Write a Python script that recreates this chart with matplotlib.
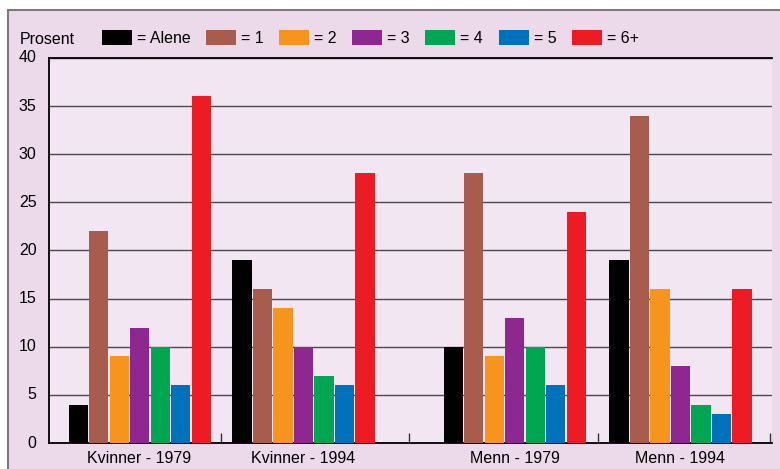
import matplotlib
matplotlib.use("Agg")
import matplotlib.pyplot as plt
from matplotlib.patches import Rectangle, Patch
import numpy as np

plt.rcParams['font.family'] = ['Liberation Sans', 'DejaVu Sans']
plt.rcParams['font.size'] = 11

groups = ["Kvinner - 1979", "Kvinner - 1994", "Menn - 1979", "Menn - 1994"]
series = ["= Alene", "= 1", "= 2", "= 3", "= 4", "= 5", "= 6+"]
alene = [4, 19, 10, 19]
en = [22, 16, 28, 34]
to = [9, 14, 9, 16]
tre = [12, 10, 13, 8]
fire = [10, 7, 10, 4]
fem = [6, 6, 6, 3]
seks_pluss = [36, 28, 24, 16]
values = [alene, en, to, tre, fire, fem, seks_pluss]
colors = ["#000000", "#a85c4e", "#f7941d", "#8e278f", "#00a651", "#0072bc", "#ed1c24"]

# layout: group centres (menn-gruppene litt lenger unna)
centers = np.array([0, 1, 2.287, 3.299])
boundaries = [0.497, 1.643, 2.793, 3.845]
slot = 0.125
width = 0.116

W, H = 780, 469
fig = plt.figure(figsize=(W / 100, H / 100), dpi=100, facecolor="white")
fig.patches.append(Rectangle((8 / W, -0.05), 1, (H - 10) / H + 0.05, transform=fig.transFigure,
                             facecolor="#ecdaea", edgecolor="#7a7a7a", lw=1.5, zorder=-10))

ax = fig.add_axes([49 / W, (H - 443) / H, (772 - 49) / W, (443 - 58) / H])
ax.set_facecolor("#f1e6f2")

for i, (vals, c) in enumerate(zip(values, colors)):
    x = centers + (i - 3) * slot
    ax.bar(x, vals, width=width, color=c, zorder=3)

ax.set_ylim(0, 40)
ax.set_xlim(-0.552, 3.857)
ax.set_yticks(range(0, 41, 5))
ax.yaxis.grid(True, color="#4a4a4a", lw=1.0, zorder=1)
ax.tick_params(axis="y", length=0, pad=9, labelsize=11.5)
for t in ax.get_yticklabels():
    t.set_verticalalignment("center")

ax.set_xticks(centers)
ax.set_xticklabels(groups)
ax.tick_params(axis="x", which="major", length=0, pad=6, labelsize=11.5)
ax.set_xticks(boundaries, minor=True)
ax.tick_params(axis="x", which="minor", direction="in", length=7, width=1, color="#333333")

for s in ["left", "top", "bottom"]:
    ax.spines[s].set_color("black")
    ax.spines[s].set_linewidth(1.3)
ax.spines["right"].set_visible(False)

fig.text(20 / W, 1 - 40 / H, "Prosent", ha="left", va="center", fontsize=11.5)

handles = [Patch(facecolor=c) for c in colors]
fig.legend(handles, series, loc="center left", bbox_to_anchor=(102 / W, 1 - 38 / H),
           bbox_transform=fig.transFigure, ncol=7, frameon=False, borderpad=0,
           borderaxespad=0, handlelength=1.88, handleheight=1.06, handletextpad=0.31,
           columnspacing=0.97, fontsize=11.5)

fig.savefig("out.png", dpi=100, facecolor="white")
